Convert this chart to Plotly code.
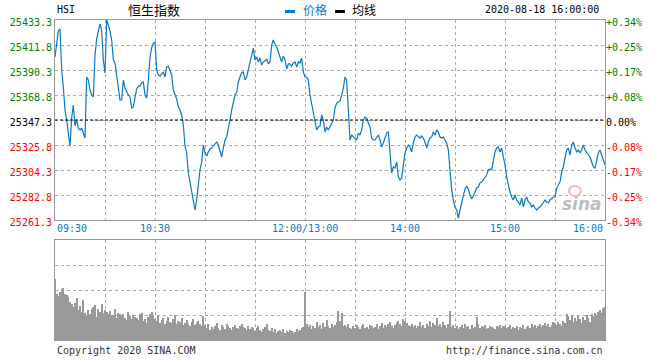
import plotly.graph_objects as go

# ---------------- data ----------------
symbol = "HSI"
title_cn = "恒生指数"
stamp = "2020-08-18 16:00:00"
prev_close = 25347.3
y_ticks = [25261.3, 25282.8, 25304.3, 25325.8, 25347.3, 25368.8, 25390.3, 25411.8, 25433.3]

prices = [
    25401.5, 25413.5, 25423.8, 25425.6, 25390.3, 25375.7, 25355.9, 25347.3, 25336.1, 25324.9,
    25349.0, 25360.2, 25342.1, 25347.3, 25340.4, 25338.7, 25340.4, 25336.1, 25331.8, 25384.3,
    25381.7, 25373.1, 25368.8, 25367.1, 25403.2, 25417.0, 25424.7, 25429.9, 25424.7, 25398.9,
    25387.7, 25433.3, 25429.0, 25423.8, 25416.1, 25398.9, 25396.3, 25384.3, 25374.8, 25364.5,
    25364.5, 25381.7, 25374.8, 25371.4, 25368.8, 25367.1, 25357.6, 25358.5, 25367.1, 25374.0,
    25376.5, 25376.5, 25379.1, 25380.0, 25368.8, 25366.2, 25381.7, 25401.5, 25409.2, 25413.5,
    25414.4, 25390.3, 25386.0, 25385.1, 25386.9, 25388.6, 25384.3, 25392.9, 25393.7, 25390.3,
    25386.0, 25373.1, 25368.8, 25365.4, 25358.5, 25355.9, 25351.6, 25343.0, 25324.9, 25318.9,
    25301.7, 25293.1, 25287.1, 25278.5, 25269.9, 25278.5, 25291.4, 25304.3, 25311.2, 25325.8,
    25318.9, 25316.3, 25319.8, 25322.4, 25323.2, 25324.9, 25326.7, 25328.4, 25325.8, 25321.5,
    25315.5, 25323.2, 25330.1, 25332.7, 25338.7, 25347.3, 25355.9, 25362.8, 25368.8, 25371.4,
    25380.0, 25384.3, 25387.7, 25388.6, 25381.7, 25384.3, 25390.3, 25397.2, 25401.5, 25409.2,
    25398.9, 25401.5, 25397.2, 25400.6, 25394.6, 25397.2, 25398.0, 25399.8, 25395.5, 25397.2,
    25411.8, 25416.1, 25412.7, 25410.1, 25405.8, 25400.6, 25397.2, 25402.3, 25398.9, 25391.2,
    25395.5, 25395.5, 25393.7, 25396.3, 25397.2, 25392.9, 25397.2, 25396.3, 25400.6, 25388.6,
    25384.3, 25384.3, 25381.7, 25368.8, 25361.1, 25355.9, 25347.3, 25338.7, 25341.3, 25342.1,
    25351.6, 25347.3, 25337.0, 25341.3, 25338.7, 25341.3, 25344.7, 25347.3, 25357.6, 25361.9,
    25362.8, 25363.6, 25368.8, 25374.8, 25384.3, 25381.7, 25355.9, 25330.1, 25334.4, 25332.7,
    25331.8, 25330.1, 25336.1, 25334.4, 25338.7, 25347.3, 25349.9, 25349.0, 25344.7, 25341.3,
    25331.8, 25330.1, 25330.1, 25331.8, 25334.4, 25330.1, 25324.1, 25327.5, 25332.7, 25336.1,
    25337.0, 25317.2, 25301.7, 25306.9, 25306.0, 25311.2, 25298.3, 25295.7, 25297.4, 25308.6,
    25318.9, 25323.2, 25325.8, 25324.1, 25319.8, 25327.5, 25332.7, 25334.4, 25332.7, 25331.8,
    25333.5, 25331.8, 25328.4, 25323.2, 25328.4, 25331.8, 25332.7, 25337.0, 25334.4, 25338.7,
    25337.0, 25332.7, 25331.8, 25332.7, 25330.1, 25327.5, 25321.5, 25302.6, 25287.1, 25278.5,
    25272.5, 25269.9, 25263.0, 25269.9, 25276.8, 25281.1, 25288.0, 25290.6, 25288.0, 25282.8,
    25279.4, 25281.9, 25286.2, 25288.8, 25289.7, 25293.1, 25294.0, 25295.7, 25297.4, 25300.0,
    25304.3, 25305.2, 25304.3, 25312.9, 25319.8, 25323.2, 25324.1, 25319.8, 25323.2, 25315.5,
    25308.6, 25298.3, 25291.4, 25285.4, 25281.1, 25278.5, 25282.8, 25278.5, 25276.8, 25274.2,
    25280.2, 25272.5, 25278.5, 25281.1, 25276.8, 25275.9, 25272.5, 25274.2, 25271.6, 25269.9,
    25271.6, 25272.5, 25274.2, 25276.8, 25278.5, 25276.8, 25275.9, 25278.5, 25280.2, 25281.1,
    25281.1, 25288.8, 25291.4, 25294.0, 25302.6, 25306.9, 25314.6, 25321.5, 25323.2, 25317.2,
    25325.8, 25328.4, 25323.2, 25319.8, 25321.5, 25318.9, 25321.5, 25325.8, 25321.5, 25319.8,
    25317.2, 25315.5, 25311.2, 25306.9, 25306.0, 25312.9, 25318.9, 25321.5, 25317.2, 25311.2,
    25308.6,
]

volumes = [
    61, 46, 44, 48, 51, 52, 46, 45, 43, 38, 36, 33, 37, 42, 30, 34, 28, 40, 27, 24, 30, 26, 31, 33, 35, 23, 31, 28, 36, 27,
    30, 28, 26, 29, 24, 25, 31, 22, 27, 26, 24, 26, 22, 20, 28, 24, 21, 25, 23, 22, 20, 26, 27, 19, 21, 17, 23, 26, 28, 25,
    21, 19, 24, 17, 20, 22, 16, 19, 23, 18, 17, 21, 25, 16, 19, 18, 22, 15, 17, 20, 16, 14, 18, 21, 15, 17, 19, 16, 14, 24,
    15, 12, 16, 10, 13, 11, 14, 17, 12, 10, 15, 13, 11, 16, 14, 12, 10, 13, 15, 12, 11, 14, 16, 13, 12, 10, 14, 11, 13, 12,
    9, 12, 14, 10, 8, 11, 13, 16, 10, 9, 12, 8, 11, 7, 9, 10, 8, 11, 7, 9, 8, 10, 9, 7, 8, 11, 9, 10, 12, 13,
    48, 16, 13, 15, 11, 14, 12, 18, 13, 15, 11, 17, 13, 20, 14, 12, 16, 13, 15, 18, 29, 19, 27, 14, 15, 13, 16, 12, 11, 14,
    12, 15, 13, 11, 14, 16, 12, 13, 11, 15, 14, 12, 13, 16, 11, 14, 17, 12, 15, 13, 16, 18, 14, 12, 15, 17, 19, 16, 14, 21,
    19, 17, 15, 14, 16, 13, 15, 12, 14, 18, 13, 15, 12, 16, 14, 19, 13, 17, 15, 22, 14, 16, 13, 18, 15, 12, 16, 29, 13, 15,
    12, 14, 11, 13, 15, 12, 16, 13, 14, 11, 15, 12, 13, 23, 16, 12, 14, 13, 15, 11, 12, 14, 13, 12, 11, 14, 13, 15, 12, 14,
    14, 12, 13, 15, 11, 13, 12, 14, 10, 13, 12, 15, 11, 13, 14, 12, 16, 13, 15, 12, 14, 16, 13, 15, 17, 14, 16, 13, 15, 18,
    17, 15, 18, 16, 14, 19, 17, 26, 24, 20, 25, 18, 22, 19, 24, 21, 17, 23, 20, 25, 22, 18, 26, 24, 27, 25, 28, 30, 27, 32,
    33,
]

grid_times = ["10:00", "10:30", "11:00", "11:30", "13:00", "13:30", "14:00", "14:30", "15:00", "15:30"]
label_times = ["09:30", "10:30", "13:00", "14:00", "15:00", "16:00"]
label_texts = ["09:30", "10:30", "12:00/13:00", "14:00", "15:00", "16:00"]

# trading minutes (lunch break removed)
times = ([f"{9 + (30 + i) // 60:02d}:{(30 + i) % 60:02d}" for i in range(150)]
         + [f"{13 + i // 60:02d}:{i % 60:02d}" for i in range(181)])

# ---------------- style ----------------
BLUE = "#0a78c8"
GREEN = "#008000"
RED = "#ff0000"
GRID = "#aaaaaa"
FRAME = "#999999"
MONO = "DejaVu Sans Mono"
CJK = "Noto Sans CJK SC"


def tick_color(v):
    if abs(v - prev_close) < 1e-6:
        return "#000000"
    return GREEN if v > prev_close else RED


def pct_text(v):
    p = (v - prev_close) / prev_close * 100
    if abs(p) < 0.005:
        return "0.00%"
    return f"{p:+.2f}%"


left_text = [f'<span style="color:{tick_color(v)}">{v:.1f}</span>' for v in y_ticks]
right_text = [f'<span style="color:{tick_color(v)}">{pct_text(v)}</span>' for v in y_ticks]

fig = go.Figure()
fig.add_trace(go.Scatter(x=times, y=prices, mode="lines", line=dict(color=BLUE, width=1.2),
                         xaxis="x", yaxis="y", hoverinfo="skip", showlegend=False))
fig.add_trace(go.Scatter(x=times, y=prices, mode="lines", line=dict(width=0), opacity=0,
                         xaxis="x", yaxis="y2", hoverinfo="skip", showlegend=False))
fig.add_trace(go.Bar(x=times, y=volumes, marker=dict(color="#999999", line=dict(width=0)),
                     xaxis="x2", yaxis="y3", hoverinfo="skip", showlegend=False))

common_x = dict(type="category", range=[0, len(times) - 1], tickvals=grid_times,
                showticklabels=False, showgrid=True, gridcolor=GRID, griddash="dot", gridwidth=1,
                showline=True, mirror=True, linecolor=FRAME, linewidth=1, ticks="", zeroline=False,
                fixedrange=True)

fig.update_layout(
    width=660, height=360,
    margin=dict(l=55, r=55, t=20, b=20, pad=0, autoexpand=False),
    paper_bgcolor="white", plot_bgcolor="white",
    bargap=0.5,
    font=dict(family=MONO, size=10, color="#000"),
    xaxis=dict(domain=[0, 1], anchor="y", **common_x),
    xaxis2=dict(domain=[0, 1], anchor="y3", matches="x", **common_x),
    yaxis=dict(domain=[0.375, 1], range=[y_ticks[0], y_ticks[-1]], tickvals=y_ticks, ticktext=left_text,
               showgrid=True, gridcolor=GRID, griddash="dot", gridwidth=1,
               showline=True, mirror=True, linecolor=FRAME, linewidth=1, ticks="", zeroline=False,
               tickfont=dict(family=MONO, size=10), ticklabelshift=2, automargin=False),
    yaxis2=dict(overlaying="y", side="right", anchor="x", range=[y_ticks[0], y_ticks[-1]],
                tickvals=y_ticks, ticktext=right_text, showgrid=False, zeroline=False, ticks="",
                showline=False, tickfont=dict(family=MONO, size=10), ticklabelshift=2, automargin=False),
    yaxis3=dict(domain=[0, 0.3125], anchor="x2", range=[0, 100], tickvals=[25, 50, 75],
                showticklabels=False, showgrid=True, gridcolor=GRID, griddash="dot", gridwidth=1,
                showline=True, mirror=True, linecolor=FRAME, linewidth=1, ticks="", zeroline=False),
)

# previous close line
fig.add_shape(type="line", xref="x domain", yref="y", x0=0, x1=1, y0=prev_close, y1=prev_close,
              line=dict(color="#000000", width=1, dash="3px,2px"))

# time labels
for t, txt in zip(label_times, label_texts):
    idx = times.index(t)
    anchor = "left" if idx == 0 else ("right" if idx == len(times) - 1 else "center")
    fig.add_annotation(x=idx, xref="x", y=0.375, yref="paper", yanchor="top", xanchor=anchor,
                       text=txt, showarrow=False, yshift=-1,
                       font=dict(family=MONO, size=10, color=BLUE))

# header
hdr_y = (340 - 9.5) / 320
fig.add_annotation(x=0, xref="paper", y=hdr_y, yref="paper", xanchor="left", yanchor="middle",
                   text=symbol, showarrow=False, font=dict(family=MONO, size=10, color="#000"))
fig.add_annotation(x=(154 - 55) / 550, xref="paper", y=hdr_y, yref="paper", xanchor="center",
                   yanchor="middle", text=title_cn, showarrow=False,
                   font=dict(family=CJK, size=13, color="#000"))
fig.add_shape(type="rect", xref="paper", yref="paper", x0=(285 - 55) / 550, x1=(295 - 55) / 550,
              y0=(340 - 13) / 320, y1=(340 - 10) / 320, fillcolor=BLUE, line=dict(width=0))
fig.add_annotation(x=(301 - 55) / 550, xref="paper", y=hdr_y, yref="paper", xanchor="left",
                   yanchor="middle", text="价格", showarrow=False,
                   font=dict(family=CJK, size=12, color=BLUE))
fig.add_shape(type="rect", xref="paper", yref="paper", x0=(335 - 55) / 550, x1=(345 - 55) / 550,
              y0=(340 - 13) / 320, y1=(340 - 10) / 320, fillcolor="#000", line=dict(width=0))
fig.add_annotation(x=(350 - 55) / 550, xref="paper", y=hdr_y, yref="paper", xanchor="left",
                   yanchor="middle", text="均线", showarrow=False,
                   font=dict(family=CJK, size=12, color="#000"))
fig.add_annotation(x=(601 - 55) / 550, xref="paper", y=hdr_y, yref="paper", xanchor="right",
                   yanchor="middle", text=stamp, showarrow=False,
                   font=dict(family=MONO, size=10, color="#000"))

# watermark
fig.add_shape(type="circle", xref="paper", yref="paper",
              x0=(569 - 55) / 550, x1=(581 - 55) / 550, y0=(340 - 196) / 320, y1=(340 - 186) / 320,
              line=dict(color="#f2b8b8", width=2))
fig.add_annotation(x=(582 - 55) / 550, xref="paper", y=(340 - 204) / 320, yref="paper",
                   xanchor="center", yanchor="middle", text="sina", showarrow=False,
                   font=dict(family="DejaVu Sans", size=17, color="#bdbdbd", style="italic", weight="bold"))

# footer
fig.add_annotation(x=0, xref="paper", y=0, yref="paper", xanchor="left", yanchor="top", yshift=-3,
                   text="Copyright 2020 SINA.COM", showarrow=False,
                   font=dict(family=MONO, size=10, color="#333"))
fig.add_annotation(x=1, xref="paper", y=0, yref="paper", xanchor="right", yanchor="top", yshift=-3,
                   text="http://finance.sina.com.cn", showarrow=False,
                   font=dict(family=MONO, size=10, color="#333"))

fig.write_html("out.html", config={"displayModeBar": False},
               post_script="document.body.style.margin='0';")
